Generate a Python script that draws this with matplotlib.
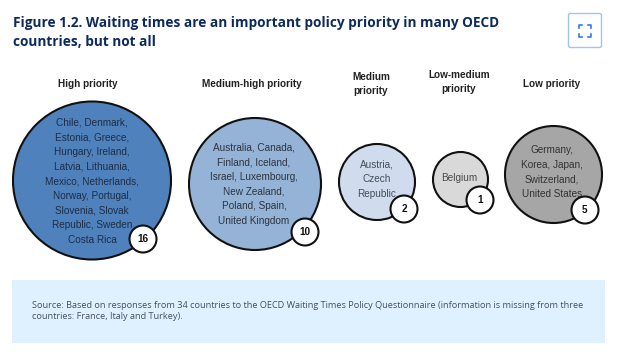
import matplotlib
matplotlib.use("Agg")
import matplotlib.pyplot as plt
from matplotlib.patches import Circle, Rectangle, FancyBboxPatch

# data
categories = ["High priority", "Medium-high priority", "Medium\npriority", "Low-medium\npriority", "Low priority"]
counts = [16, 10, 2, 1, 5]
members = [
    "Chile, Denmark,\nEstonia, Greece,\nHungary, Ireland,\nLatvia, Lithuania,\nMexico, Netherlands,\nNorway, Portugal,\nSlovenia, Slovak\nRepublic, Sweden\nCosta Rica",
    "Australia, Canada,\nFinland, Iceland,\nIsrael, Luxembourg,\nNew Zealand,\nPoland, Spain,\nUnited Kingdom",
    "Austria,\nCzech\nRepublic",
    "Belgium",
    "Germany,\nKorea, Japan,\nSwitzerland,\nUnited States",
]
title = "Figure 1.2. Waiting times are an important policy priority in many OECD\ncountries, but not all"
source = "Source: Based on responses from 34 countries to the OECD Waiting Times Policy Questionnaire (information is missing from three\ncountries: France, Italy and Turkey)."

# layout, in pixels of the picture
centers = [(92, 180.5), (255, 184), (377, 182), (460.5, 179.5), (553.5, 174.5)]
radii = [79, 66, 38, 27.5, 48.5]
badges = [(143, 239), (305, 232), (404, 209), (480, 200), (585, 210)]
text_xy = [(92, 181), (254, 184.5), (377, 179), (459, 178), (552, 172)]
head_xy = [(88, 84), (252, 84), (371, 84), (459, 82), (552, 84)]
colors = ["#4f81bd", "#95b3d7", "#d0dcee", "#d9d9d9", "#a6a6a6"]
text_colors = ["#1f2d44", "#2c3440", "#454d58", "#4a4a4a", "#333333"]

fig = plt.figure(figsize=(6.24, 3.54), dpi=100)
ax = fig.add_axes([0, 0, 1, 1])
ax.set_xlim(0, 624)
ax.set_ylim(354, 0)
ax.set_axis_off()

ax.text(13, 32.5, title, family="Open Sans", weight="bold", fontsize=9.8, color="#0c2a5c",
        va="center", ha="left", linespacing=1.42)

# expand button
ax.add_patch(FancyBboxPatch((568.5, 13.5), 33, 34, boxstyle="round,pad=0,rounding_size=2",
                            fc="white", ec="#9fc3f5", lw=1))
ax.plot([579, 579, 582], [28, 25, 25], color="#2f7bf0", lw=1.2)
ax.plot([588, 591, 591], [25, 25, 28], color="#2f7bf0", lw=1.2)
ax.plot([579, 579, 582], [34, 37, 37], color="#2f7bf0", lw=1.2)
ax.plot([588, 591, 591], [37, 37, 34], color="#2f7bf0", lw=1.2)

for i in range(len(categories)):
    ax.add_patch(Circle(centers[i], radii[i], fc=colors[i], ec="#111111", lw=1.5, zorder=2))
    ax.text(text_xy[i][0], text_xy[i][1], members[i], family="Liberation Sans", fontsize=7.2,
            color=text_colors[i], ha="center", va="center", linespacing=1.58, zorder=3)
    ax.text(head_xy[i][0], head_xy[i][1], categories[i], family="Liberation Sans", weight="bold",
            fontsize=7.2, color="#222222", ha="center", va="center", linespacing=1.5, zorder=3)
    ax.add_patch(Circle(badges[i], 13.5, fc="white", ec="#111111", lw=1.5, zorder=4))
    ax.text(badges[i][0], badges[i][1], str(counts[i]), family="Liberation Sans", weight="bold",
            fontsize=7.2, color="#111111", ha="center", va="center", zorder=5)

# source box
ax.add_patch(Rectangle((12, 280), 593, 63, fc="#dff0ff", ec="none"))
ax.text(32, 311, source, family="Open Sans", fontsize=6.58, color="#45505f", ha="left",
        va="center", linespacing=1.4)

fig.savefig("out.png", dpi=100)
